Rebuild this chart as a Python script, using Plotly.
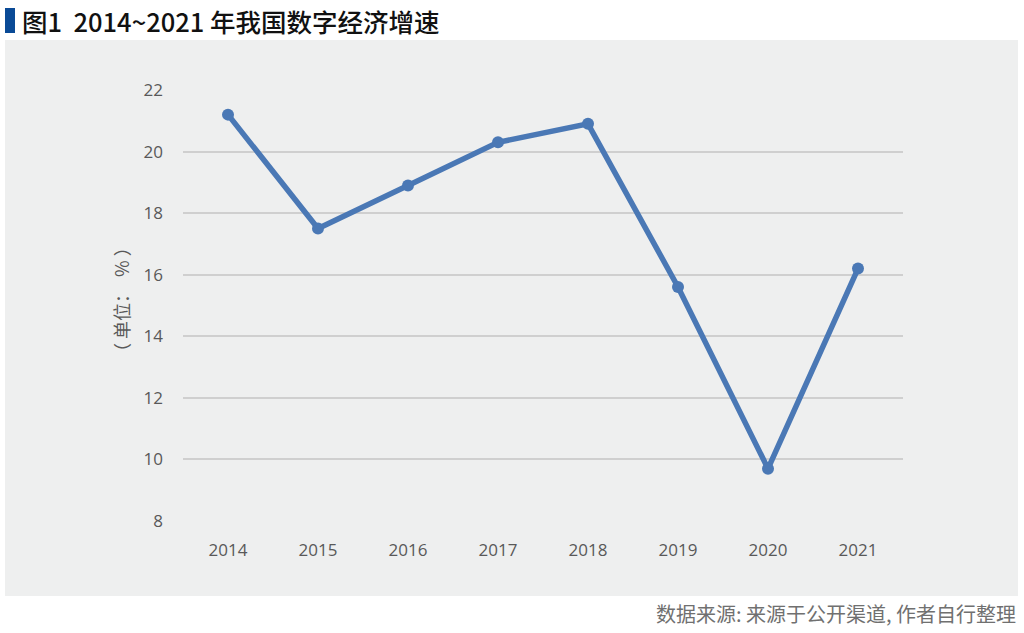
import plotly.graph_objects as go

years = ["2014", "2015", "2016", "2017", "2018", "2019", "2020", "2021"]
growth = [21.2, 17.5, 18.9, 20.3, 20.9, 15.6, 9.7, 16.2]
y_ticks = [8, 10, 12, 14, 16, 18, 20, 22]

W, H = 1024, 633
L, R, T, B = 183, 121, 90, 112
pw, ph = W - L - R, H - T - B

def px(x):
    return (x - L) / pw

def py(y):
    return (H - B - y) / ph

fig = go.Figure()
fig.add_trace(go.Scatter(
    x=years, y=growth, mode="lines+markers",
    line=dict(color="#4a78b5", width=5.5),
    marker=dict(color="#4a78b5", size=12),
    showlegend=False, cliponaxis=False,
))

font_cjk = "Noto Sans CJK SC"

fig.update_layout(
    width=W, height=H,
    margin=dict(l=L, r=R, t=T, b=B),
    paper_bgcolor="white",
    plot_bgcolor="rgba(0,0,0,0)",
    xaxis=dict(type="category", range=[-0.5, 7.5], showgrid=False, zeroline=False,
               showline=False, ticks="", tickfont=dict(family="Open Sans", size=17, color="#595959"),
               ticklabelstandoff=17),
    yaxis=dict(range=[8, 22], tickvals=y_ticks, showgrid=True, gridcolor="#cfcfcf", gridwidth=1.5,
               zeroline=False, showline=False, ticks="",
               tickfont=dict(family="Open Sans", size=17, color="#595959"), ticklabelstandoff=19),
    shapes=[
        dict(type="rect", xref="paper", yref="paper", x0=px(5), x1=px(1018), y0=py(596), y1=py(40),
             fillcolor="#eeefef", line=dict(width=0), layer="below"),
        dict(type="rect", xref="paper", yref="paper", x0=px(5), x1=px(15), y0=py(33), y1=py(8),
             fillcolor="#0a4a96", line=dict(width=0)),
    ],
    annotations=[
        dict(text="图1  2014~2021 年我国数字经济增速", xref="paper", yref="paper",
             x=px(20), y=py(20), xanchor="left", yanchor="middle", showarrow=False,
             font=dict(family=font_cjk, size=25.5, color="#111111", weight=500)),
        dict(text="（ 单位：  % ）", xref="paper", yref="paper", x=px(121), y=py(300),
             xanchor="center", yanchor="middle", textangle=-90, showarrow=False,
             font=dict(family=font_cjk, size=18, color="#595959")),
        dict(text="数据来源: 来源于公开渠道, 作者自行整理", xref="paper", yref="paper",
             x=px(1018), y=py(613), xanchor="right", yanchor="middle", showarrow=False,
             font=dict(family=font_cjk, size=20, color="#707070")),
    ],
)

fig.write_html("out.html")
